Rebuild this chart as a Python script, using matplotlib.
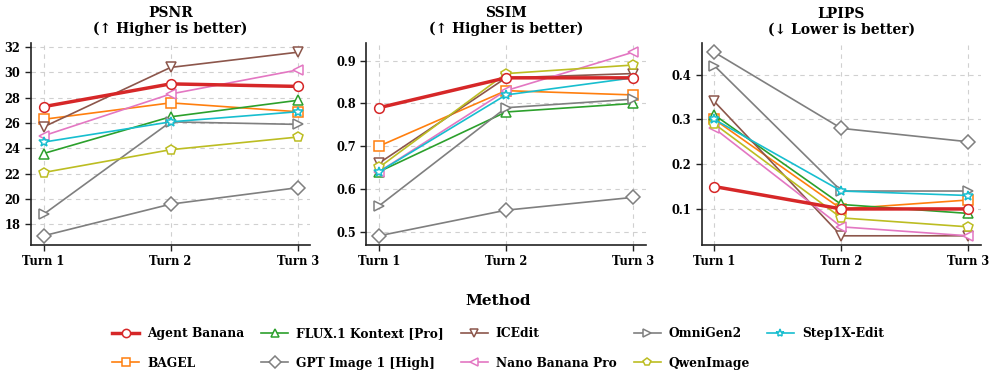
import numpy as np
import matplotlib
matplotlib.use("Agg")
import matplotlib.pyplot as plt

plt.rcParams['font.family'] = ['DejaVu Serif']
plt.rcParams['font.weight'] = 'bold'

turns = ["Turn 1", "Turn 2", "Turn 3"]
methods = ["Agent Banana", "BAGEL", "FLUX.1 Kontext [Pro]", "GPT Image 1 [High]",
           "ICEdit", "Nano Banana Pro", "OmniGen2", "QwenImage", "Step1X-Edit"]
colors = ["#d62728", "#ff7f0e", "#2ca02c", "#7f7f7f", "#8c564b",
          "#e377c2", "#7f7f7f", "#bcbd22", "#17becf"]
markers = ["o", "s", "^", "D", "v", "<", ">", "p", "*"]

psnr = [
    [27.3, 29.1, 28.9],
    [26.3, 27.6, 26.9],
    [23.6, 26.5, 27.8],
    [17.1, 19.6, 20.9],
    [25.7, 30.4, 31.6],
    [25.0, 28.3, 30.2],
    [18.8, 26.1, 25.9],
    [22.1, 23.9, 24.9],
    [24.5, 26.1, 26.9],
]
ssim = [
    [0.79, 0.86, 0.86],
    [0.70, 0.83, 0.82],
    [0.64, 0.78, 0.80],
    [0.49, 0.55, 0.58],
    [0.66, 0.86, 0.87],
    [0.64, 0.83, 0.92],
    [0.56, 0.79, 0.81],
    [0.65, 0.87, 0.89],
    [0.64, 0.82, 0.86],
]
lpips = [
    [0.15, 0.10, 0.10],
    [0.30, 0.10, 0.12],
    [0.31, 0.11, 0.09],
    [0.45, 0.28, 0.25],
    [0.34, 0.04, 0.04],
    [0.28, 0.06, 0.04],
    [0.42, 0.14, 0.14],
    [0.29, 0.08, 0.06],
    [0.30, 0.14, 0.13],
]

panels = [("PSNR\n(↑ Higher is better)", psnr),
          ("SSIM\n(↑ Higher is better)", ssim),
          ("LPIPS\n(↓ Lower is better)", lpips)]

fig, axes = plt.subplots(1, 3, figsize=(9.96, 3.81), dpi=100)
fig.subplots_adjust(left=0.031, right=0.985, bottom=0.357, top=0.887, wspace=0.2)

x = np.arange(len(turns))
for ax, (title, data) in zip(axes, panels):
    for i, name in enumerate(methods):
        main = (i == 0)
        ax.plot(x, data[i], color=colors[i], marker=markers[i],
                markerfacecolor="white", markeredgecolor=colors[i],
                markersize=7, markeredgewidth=1.1,
                linewidth=2.5 if main else 1.2, label=name,
                zorder=5 if main else 3)
    ax.set_title(title, fontsize=10, fontweight="bold", pad=7, linespacing=1.15)
    ax.set_xticks(x)
    ax.set_xticklabels(turns)
    ax.set_xlim(-0.1, 2.1)
    ax.grid(True, linestyle=(0, (4, 4)), color="#d0d0d0", linewidth=0.8)
    for s in ["top", "right"]:
        ax.spines[s].set_visible(False)
    for s in ["left", "bottom"]:
        ax.spines[s].set_color("#222222")
        ax.spines[s].set_linewidth(1.2)
    ax.tick_params(labelsize=8.3, length=4, width=1, color="#222222")
    for lab in ax.get_xticklabels() + ax.get_yticklabels():
        lab.set_fontweight("bold")

handles, labels = axes[0].get_legend_handles_labels()
leg = fig.legend(handles, labels, loc="upper center", bbox_to_anchor=(0.5, 0.258),
                 ncol=5, frameon=False, title="Method",
                 prop={"weight": "bold", "size": 8.8},
                 title_fontproperties={"weight": "bold", "size": 11},
                 columnspacing=1.4, handlelength=2.2, handletextpad=0.65,
                 labelspacing=1.35, markerscale=0.85)
leg._legend_box.sep = 14

fig.savefig("out.png", dpi=100)
